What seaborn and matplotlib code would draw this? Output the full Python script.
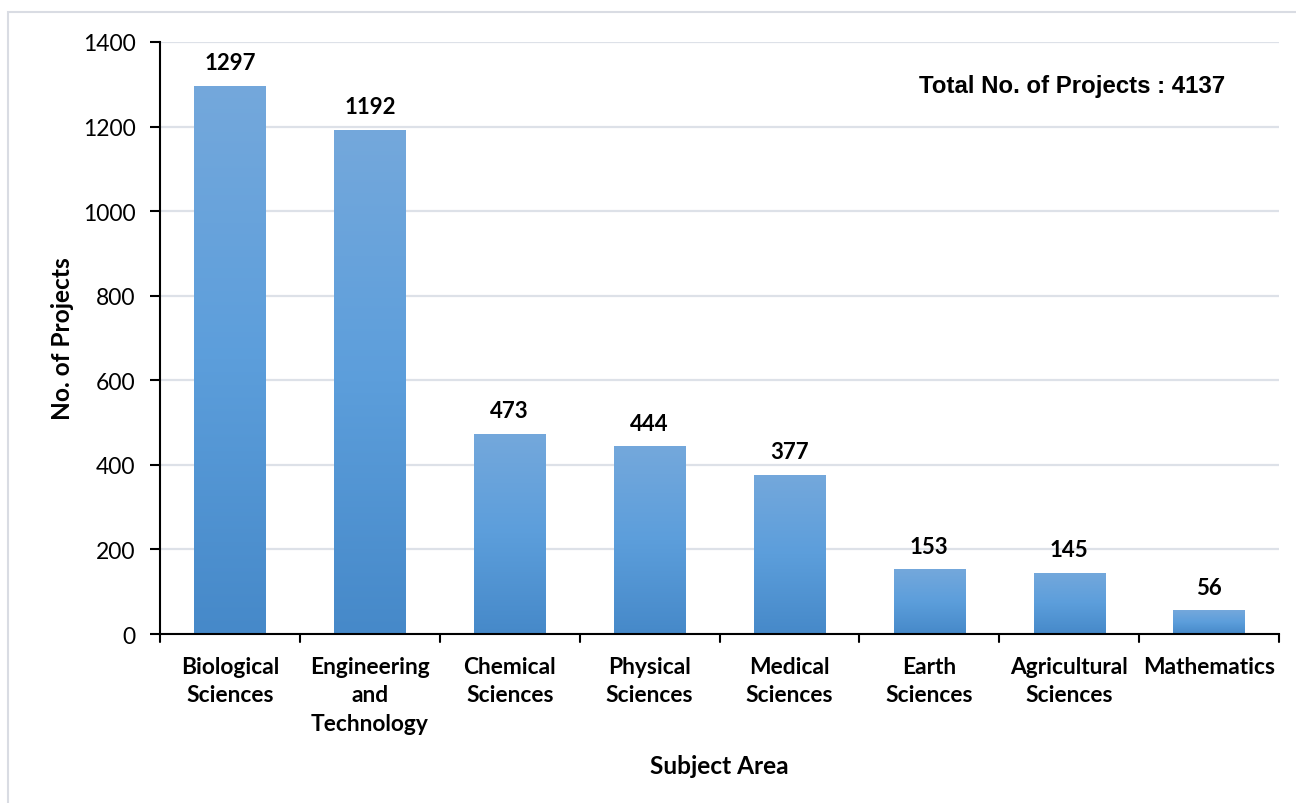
import numpy as np
import pandas as pd
import matplotlib
matplotlib.use("Agg")
import matplotlib.pyplot as plt
import seaborn as sns
from matplotlib.colors import LinearSegmentedColormap
from matplotlib.patches import Rectangle

categories = ["Biological\nSciences", "Engineering\nand\nTechnology", "Chemical\nSciences",
              "Physical\nSciences", "Medical\nSciences", "Earth\nSciences",
              "Agricultural\nSciences", "Mathematics"]
projects = [1297, 1192, 473, 444, 377, 153, 145, 56]
total_label = "Total No. of Projects : 4137"
y_ticks = [0, 200, 400, 600, 800, 1000, 1200, 1400]

sns.set_theme(style="white")
plt.rcParams['font.family'] = ['Lato', 'DejaVu Sans']

df = pd.DataFrame({"Subject Area": categories, "No. of Projects": projects})

fig = plt.figure(figsize=(12.96, 8.04), dpi=100)
ax = fig.add_axes([160/1296, 1 - 635/804, (1279 - 160)/1296, (635 - 43)/804])

sns.barplot(data=df, x="Subject Area", y="No. of Projects", color="#5b9bd5",
            width=0.51, ax=ax, zorder=2)

ax.set_xlim(-0.5, len(categories) - 0.5)
ax.set_ylim(0, 1400)
ax.set_yticks(y_ticks)
ax.set_yticklabels([str(t) for t in y_ticks], fontsize=16.5, color="black")
ax.yaxis.grid(True, color="#dde1e8", linewidth=1.6, zorder=0)
ax.set_axisbelow(True)

# gradient fill clipped to bars
cmap = LinearSegmentedColormap.from_list("g", ["#4689c9", "#5c9edb", "#74a8dc"])
grad = np.linspace(0, 1, 256).reshape(-1, 1)
for p in ax.patches:
    x0, y0 = p.get_x(), p.get_y()
    w, h = p.get_width(), p.get_height()
    im = ax.imshow(grad, cmap=cmap, aspect="auto", origin="lower",
                   extent=[x0, x0 + w, y0, y0 + h], zorder=3)
    im.set_clip_path(p)
    p.set_facecolor("none")
    p.set_edgecolor("none")
ax.set_xlim(-0.5, len(categories) - 0.5)
ax.set_ylim(0, 1400)

# value labels
for i, v in enumerate(projects):
    ax.annotate(str(v), (i, v), xytext=(0, 9), textcoords="offset points",
                ha="center", va="bottom", fontsize=16, fontweight="bold", color="black")

# x ticks at category boundaries
ax.set_xticks(range(len(categories)))
ax.set_xticklabels(categories, fontsize=16.4, fontweight="bold", color="black",
                   linespacing=1.42, va="top")
ax.tick_params(axis="x", length=0, pad=16)
for b in np.arange(-0.5, len(categories), 1.0):
    ax.plot([b, b], [0, -0.014], transform=ax.get_xaxis_transform(), color="black",
            lw=1.5, clip_on=False, zorder=5)
ax.tick_params(axis="y", left=True, length=7, width=1.5, color="black", pad=10.5)

for s in ["top", "right"]:
    ax.spines[s].set_visible(False)
for s in ["left", "bottom"]:
    ax.spines[s].set_color("black")
    ax.spines[s].set_linewidth(1.5)
    ax.spines[s].set_zorder(6)

ax.set_ylabel("No. of Projects", fontsize=17.6, fontweight="bold", color="black", labelpad=6.5)
ax.set_xlabel("Subject Area", fontsize=17.6, fontweight="bold", color="black", labelpad=14.5)

ax.text(0.8155, 0.926, total_label, transform=ax.transAxes, ha="center", va="center",
        fontsize=17.3, fontweight="bold", color="black", family=["Liberation Sans", "DejaVu Sans"])

# outer chart border
fig.patches.append(Rectangle((8/1296, -0.05), 1.2, 1 - 13/804 + 0.05, transform=fig.transFigure,
                             fill=False, edgecolor="#d9dce3", linewidth=1.5, zorder=0))

fig.savefig("out.png", dpi=100, facecolor="white")
